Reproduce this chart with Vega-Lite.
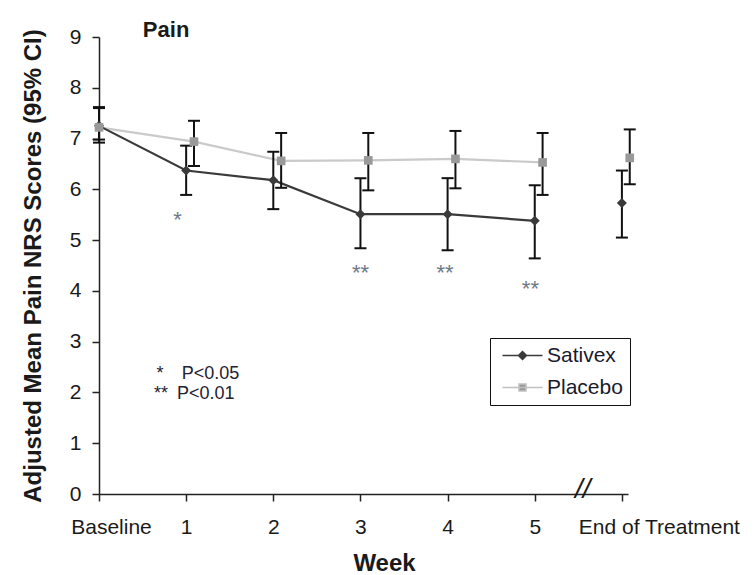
{
  "$schema": "https://vega.github.io/schema/vega-lite/v6.json",
  "width": 529,
  "height": 457,
  "autosize": {"type": "none"},
  "padding": {"left": 99, "top": 37, "right": 127, "bottom": 81},
  "background": "white",
  "config": {
    "view": {"stroke": null},
    "font": "Liberation Sans",
    "axis": {"grid": false, "domainColor": "#222222", "tickColor": "#222222", "labelColor": "#1a1a1a", "titleColor": "#1a1a1a"}
  },
  "datasets": {
    "main": [
      {"group": "Sativex", "week": 0, "mean": 7.25, "lo": 6.92, "hi": 7.62},
      {"group": "Sativex", "week": 1, "mean": 6.37, "lo": 5.89, "hi": 6.86},
      {"group": "Sativex", "week": 2, "mean": 6.18, "lo": 5.61, "hi": 6.74},
      {"group": "Sativex", "week": 3, "mean": 5.51, "lo": 4.84, "hi": 6.22},
      {"group": "Sativex", "week": 4, "mean": 5.51, "lo": 4.8, "hi": 6.22},
      {"group": "Sativex", "week": 5, "mean": 5.38, "lo": 4.64, "hi": 6.08},
      {"group": "Sativex", "week": 6, "mean": 5.73, "lo": 5.05, "hi": 6.37},
      {"group": "Placebo", "week": 0, "mean": 7.22, "lo": 6.98, "hi": 7.6},
      {"group": "Placebo", "week": 1, "mean": 6.94, "lo": 6.46, "hi": 7.35},
      {"group": "Placebo", "week": 2, "mean": 6.56, "lo": 6.03, "hi": 7.11},
      {"group": "Placebo", "week": 3, "mean": 6.57, "lo": 5.98, "hi": 7.11},
      {"group": "Placebo", "week": 4, "mean": 6.6, "lo": 6.02, "hi": 7.15},
      {"group": "Placebo", "week": 5, "mean": 6.53, "lo": 5.89, "hi": 7.11},
      {"group": "Placebo", "week": 6, "mean": 6.62, "lo": 6.1, "hi": 7.18}
    ],
    "sig": [
      {"wk": 0.9, "val": 5.4, "text": "*"},
      {"wk": 3.0, "val": 4.36, "text": "**"},
      {"wk": 3.97, "val": 4.36, "text": "**"},
      {"wk": 4.95, "val": 4.04, "text": "**"}
    ],
    "notes": [
      {"wk": 0.66, "val": 2.36, "text": "*"},
      {"wk": 0.95, "val": 2.36, "text": "P<0.05"},
      {"wk": 0.63, "val": 1.97, "text": "**"},
      {"wk": 0.895, "val": 1.97, "text": "P<0.01"}
    ],
    "panel": [{"wk": 0.77, "val": 9.13, "text": "Pain"}],
    "brk": [{"wk": 5.55, "val": 0.07, "text": "//"}]
  },
  "layer": [
    {
      "data": {"name": "main"},
      "transform": [
        {"filter": "datum.group === 'Placebo' && datum.week < 6"},
        {"calculate": "datum.week + (datum.week > 0 ? 0.09 : 0)", "as": "xpos"}
      ],
      "mark": {"type": "line", "strokeWidth": 2.2, "color": "#cacaca"},
      "encoding": {
        "x": {
          "field": "xpos", "type": "quantitative",
          "scale": {"domain": [0, 6.07], "nice": false, "zero": false},
          "axis": {
            "values": [0, 1, 2, 3, 4, 5, 6],
            "format": "d",
            "title": "Week",
            "labelExpr": "datum.value == 0 ? 'Baseline' : datum.value == 6 ? 'End of Treatment' : datum.label",
            "labelFontSize": 21,
            "titleFontSize": 24,
            "titleFontWeight": "bold",
            "tickSize": 7,
            "tickWidth": 1.5,
            "domainWidth": 1.5,
            "labelPadding": 15,
            "titlePadding": 14,
            "titleX": 285,
            "labelFlush": false,
            "labelOverlap": false,
            "labelOffset": {"condition": [{"test": "datum.value == 0", "value": 12}, {"test": "datum.value == 6", "value": 37}], "value": 0}
          }
        },
        "y": {
          "field": "mean", "type": "quantitative",
          "scale": {"domain": [0, 9], "nice": false},
          "axis": {
            "values": [0, 1, 2, 3, 4, 5, 6, 7, 8, 9],
            "title": "Adjusted Mean Pain NRS Scores (95% CI)",
            "labelFontSize": 21,
            "titleFontSize": 24,
            "titleFontWeight": "bold",
            "tickSize": 7,
            "tickWidth": 1.5,
            "domainWidth": 1.5,
            "labelPadding": 11,
            "titlePadding": 24
          }
        },
        "order": {"field": "week", "type": "quantitative"}
      }
    },
    {
      "data": {"name": "main"},
      "transform": [
        {"filter": "datum.group === 'Sativex' && datum.week < 6"}
      ],
      "mark": {"type": "line", "strokeWidth": 2.2, "color": "#3a3a3a"},
      "encoding": {
        "x": {"field": "week", "type": "quantitative"},
        "y": {"field": "mean", "type": "quantitative"},
        "order": {"field": "week", "type": "quantitative"}
      }
    },
    {
      "data": {"name": "main"},
      "transform": [
        {"calculate": "datum.week + (datum.group === 'Placebo' && datum.week > 0 ? 0.09 : 0)", "as": "xpos"}
      ],
      "mark": {"type": "rule", "color": "#111111", "strokeWidth": 2},
      "encoding": {
        "x": {"field": "xpos", "type": "quantitative"},
        "y": {"field": "lo", "type": "quantitative"},
        "y2": {"field": "hi"}
      }
    },
    {
      "data": {"name": "main"},
      "transform": [
        {"calculate": "datum.week + (datum.group === 'Placebo' && datum.week > 0 ? 0.09 : 0)", "as": "xpos"}
      ],
      "mark": {"type": "tick", "orient": "horizontal", "color": "#111111", "size": 12, "thickness": 2, "opacity": 1},
      "encoding": {
        "x": {"field": "xpos", "type": "quantitative"},
        "y": {"field": "lo", "type": "quantitative"}
      }
    },
    {
      "data": {"name": "main"},
      "transform": [
        {"calculate": "datum.week + (datum.group === 'Placebo' && datum.week > 0 ? 0.09 : 0)", "as": "xpos"}
      ],
      "mark": {"type": "tick", "orient": "horizontal", "color": "#111111", "size": 12, "thickness": 2, "opacity": 1},
      "encoding": {
        "x": {"field": "xpos", "type": "quantitative"},
        "y": {"field": "hi", "type": "quantitative"}
      }
    },
    {
      "data": {"name": "main"},
      "transform": [
        {"filter": "datum.group === 'Sativex'"}
      ],
      "mark": {"type": "point", "filled": true, "opacity": 1, "size": 100, "shape": "diamond", "color": "#3a3a3a"},
      "encoding": {
        "x": {"field": "week", "type": "quantitative"},
        "y": {"field": "mean", "type": "quantitative"}
      }
    },
    {
      "data": {"name": "main"},
      "transform": [
        {"filter": "datum.group === 'Placebo'"},
        {"calculate": "datum.week + (datum.week > 0 ? 0.09 : 0)", "as": "xpos"}
      ],
      "mark": {"type": "point", "filled": true, "opacity": 1, "size": 75, "shape": "square", "color": "#999999"},
      "encoding": {
        "x": {"field": "xpos", "type": "quantitative"},
        "y": {"field": "mean", "type": "quantitative"}
      }
    },
    {
      "data": {"name": "main"},
      "transform": [
        {"filter": "false"}
      ],
      "mark": {"type": "point", "filled": true, "opacity": 1, "size": 100, "strokeWidth": 1.5},
      "encoding": {
        "x": {"field": "week", "type": "quantitative"},
        "y": {"field": "mean", "type": "quantitative"},
        "shape": {
          "field": "group", "type": "nominal",
          "scale": {"domain": ["Sativex", "Placebo"], "range": ["M-1,0L7,0M3,-0.8L3.8,0L3,0.8L2.2,0Z", "M-1,0L7,0M2.3,-0.7L3.7,-0.7L3.7,0.7L2.3,0.7Z"]},
          "legend": {
            "title": null,
            "orient": "none",
            "legendX": 391,
            "legendY": 301,
            "strokeColor": "#111111",
            "fillColor": "white",
            "padding": 7,
            "labelFontSize": 21,
            "labelColor": "#1a1a2e",
            "labelFont": "Liberation Sans",
            "symbolSize": 100,
            "labelOffset": 29,
            "rowPadding": 10
          }
        },
        "fill": {
          "field": "group", "type": "nominal",
          "scale": {"domain": ["Sativex", "Placebo"], "range": ["#3a3a3a", "#999999"]}
        },
        "stroke": {
          "field": "group", "type": "nominal",
          "scale": {"domain": ["Sativex", "Placebo"], "range": ["#3a3a3a", "#c0c0c0"]}
        }
      }
    },
    {
      "data": {"name": "sig"},
      "mark": {"type": "text", "fontSize": 22, "color": "#6f7889", "align": "center", "baseline": "middle"},
      "encoding": {
        "x": {"field": "wk", "type": "quantitative"},
        "y": {"field": "val", "type": "quantitative"},
        "text": {"field": "text"}
      }
    },
    {
      "data": {"name": "notes"},
      "mark": {"type": "text", "fontSize": 18, "color": "#1e2233", "align": "left", "baseline": "middle"},
      "encoding": {
        "x": {"field": "wk", "type": "quantitative"},
        "y": {"field": "val", "type": "quantitative"},
        "text": {"field": "text"}
      }
    },
    {
      "data": {"name": "panel"},
      "mark": {"type": "text", "fontSize": 22, "fontWeight": "bold", "color": "#1a1a1a", "align": "center", "baseline": "middle"},
      "encoding": {
        "x": {"field": "wk", "type": "quantitative"},
        "y": {"field": "val", "type": "quantitative"},
        "text": {"field": "text"}
      }
    },
    {
      "data": {"name": "brk"},
      "mark": {"type": "text", "fontSize": 28, "fontStyle": "italic", "color": "#1a1a1a", "align": "center", "baseline": "middle"},
      "encoding": {
        "x": {"field": "wk", "type": "quantitative"},
        "y": {"field": "val", "type": "quantitative"},
        "text": {"field": "text"}
      }
    }
  ]
}
